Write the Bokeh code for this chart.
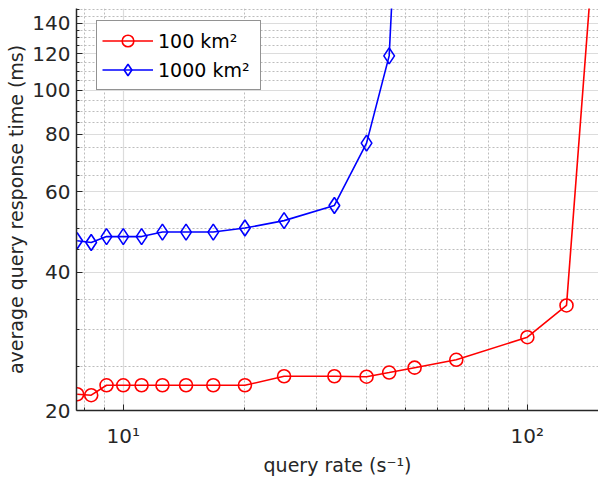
from bokeh.plotting import figure
from bokeh.models import FixedTicker, Legend, LegendItem, Range1d, BasicTickFormatter
from bokeh.embed import file_html
from bokeh.resources import INLINE

# query rates (s^-1)
rate_100 = [7.69, 8.33, 9.09, 10.0, 11.1, 12.5, 14.3, 16.7, 20.0, 25.0, 33.3, 40.0,
            45.5, 52.6, 66.7, 100.0, 125.0, 142.9]
resp_100 = [21.7, 21.6, 22.7, 22.7, 22.7, 22.7, 22.7, 22.7, 22.7, 23.75, 23.75, 23.7,
            24.2, 24.8, 25.8, 28.9, 33.9, 160.0]

rate_1000 = [7.69, 8.33, 9.09, 10.0, 11.1, 12.5, 14.3, 16.7, 20.0, 25.0, 33.3, 40.0,
             45.5, 47.6]
resp_1000 = [46.9, 46.5, 47.9, 47.9, 47.9, 49.0, 49.0, 49.0, 50.0, 51.9, 56.0, 76.6,
             118.7, 265.0]

series_labels = ["100 km²", "1000 km²"]
x_major = [10, 100]
x_minor = [8, 9, 20, 30, 40, 50, 60, 70, 80, 90]
x_tick_labels = {10: "10¹", 100: "10²"}
y_major = [20, 40, 60, 80, 100, 120, 140]
y_minor = [25, 30, 35, 45, 50, 55, 65, 70, 75, 85, 90, 95, 105, 110, 115,
           125, 130, 135, 145, 150]

FONT = "DejaVu Sans"
DARK = "#262626"

p = figure(width=598, height=479, x_axis_type="log", y_axis_type="log",
           x_range=Range1d(7.66, 150.0), y_range=Range1d(20, 150.6),
           output_backend="svg", toolbar_location=None,
           min_border_left=76, min_border_right=0, min_border_top=8,
           min_border_bottom=69)
p.outline_line_color = None
p.background_fill_color = "white"

xt = FixedTicker(ticks=x_major, minor_ticks=x_minor)
yt = FixedTicker(ticks=y_major, minor_ticks=y_minor)
p.xaxis.ticker = xt
p.yaxis.ticker = yt
p.xgrid.ticker = xt
p.ygrid.ticker = yt
p.yaxis.formatter = BasicTickFormatter()
p.xaxis.major_label_overrides = x_tick_labels
p.yaxis.major_label_overrides = {v: str(v) for v in y_major}

for g in (p.xgrid, p.ygrid):
    g.grid_line_color = "#dcdcdc"
    g.grid_line_width = 1.2
    g.minor_grid_line_color = "#bdbdbd"
    g.minor_grid_line_dash = "2 2"
    g.minor_grid_line_width = 1

for ax in (p.xaxis, p.yaxis):
    ax.axis_line_color = DARK
    ax.axis_line_width = 1.5
    ax.major_tick_line_color = DARK
    ax.minor_tick_line_color = DARK
    ax.major_tick_in = 6
    ax.major_tick_out = 0
    ax.minor_tick_in = 3
    ax.minor_tick_out = 0
    ax.major_label_text_font = FONT
    ax.major_label_text_font_size = "20px"
    ax.major_label_text_color = DARK
    ax.axis_label_text_font = FONT
    ax.axis_label_text_font_size = "19px"
    ax.axis_label_text_font_style = "normal"
    ax.axis_label_text_color = DARK

p.xaxis.axis_label = "query rate (s⁻¹)"
p.yaxis.axis_label = "average query response time (ms)"
p.xaxis.major_label_standoff = 13
p.xaxis.axis_label_standoff = 3
p.yaxis.major_label_standoff = 6
p.yaxis.axis_label_standoff = 2

l1 = p.line(rate_100, resp_100, line_color="#ff0000", line_width=1.6)
s1 = p.scatter(rate_100, resp_100, marker="circle", size=13, line_color="#ff0000",
               line_width=1.6, fill_alpha=0)
l2 = p.line(rate_1000, resp_1000, line_color="#0000ff", line_width=1.6)
s2 = p.scatter(rate_1000, resp_1000, marker="diamond", size=16, line_color="#0000ff",
               line_width=1.6, fill_alpha=0)

legend = Legend(items=[LegendItem(label=series_labels[0], renderers=[l1, s1]),
                       LegendItem(label=series_labels[1], renderers=[l2, s2])],
                location=(20, 320), padding=5, spacing=0, glyph_height=29,
                glyph_width=51, label_standoff=5, label_width=97, label_height=20,
                label_text_font=FONT, label_text_font_size="19px",
                label_text_color="black", border_line_color=DARK,
                border_line_width=1.2, background_fill_color="white",
                background_fill_alpha=1.0, margin=0)
p.add_layout(legend, "center")

open("out.html", "w").write(file_html(p, INLINE))
